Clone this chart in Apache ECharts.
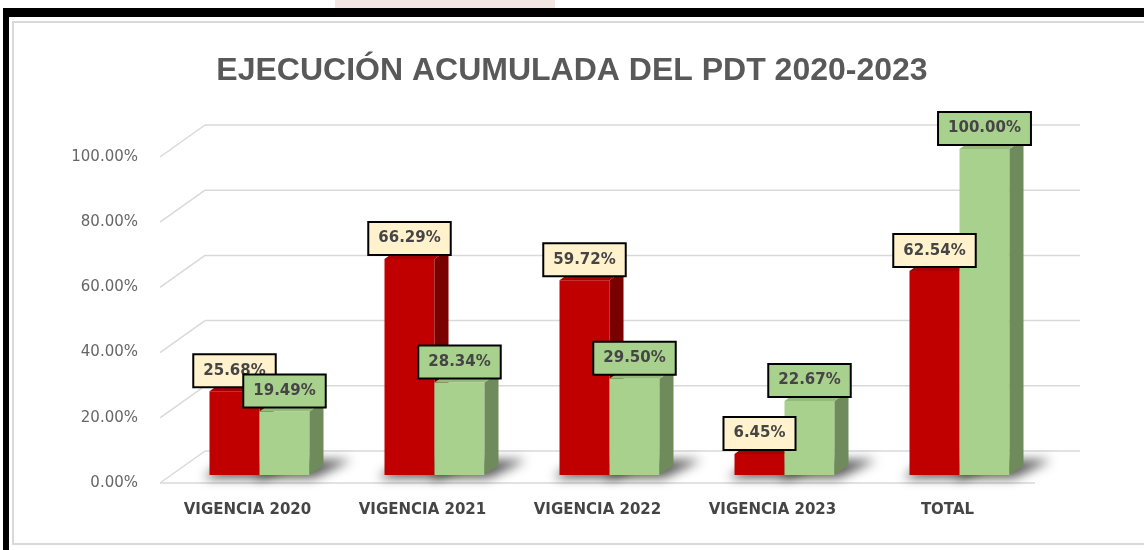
<!DOCTYPE html>
<html>
<head>
<meta charset="utf-8">
<script src="https://cdn.jsdelivr.net/npm/echarts@6/dist/echarts.min.js"></script>
<style>
  html, body { margin: 0; padding: 0; background: #ffffff; }
  #chart { width: 1144px; height: 550px; }
</style>
</head>
<body>
<div id="chart"></div>
<script>
// Categories and values (percent)
const categories = ['VIGENCIA 2020', 'VIGENCIA 2021', 'VIGENCIA 2022', 'VIGENCIA 2023', 'TOTAL'];
const redValues = [25.68, 66.29, 59.72, 6.45, 62.54];
const greenValues = [19.49, 28.34, 29.50, 22.67, 100.00];
const yTicks = [0, 20, 40, 60, 80, 100];

// 3D look: depth of the back wall, of the bar placement, and of each bar
const WALL_DX = 45, WALL_DY = -32;
const BAR_DX = 12, BAR_DY = -8;
const SIDE_DX = 14, SIDE_DY = -10;
const BAR_RATIO = 0.2857;
// the floor shadow shape is painted off-canvas so only its blurred shadow shows
const SHADOW_SHIFT = 3000;

const FONT = '"DejaVu Sans", "Liberation Sans", sans-serif';

const palette = {
  red:   { front: '#c00000', side: '#7a0000', top: '#a80000', label: '#fff2cc' },
  green: { front: '#a9d18e', side: '#6f8b5b', top: '#94bb7a', label: '#a9d18e' }
};

function fmt(v) { return v.toFixed(2) + '%'; }

// Walls and floor: one entry per tick value
function renderWall(params, api) {
  const cs = params.coordSys;
  const v = api.value(1);
  const p = api.coord([0, v]);
  const y = p[1];
  const x0 = cs.x, x1 = cs.x + cs.width;
  const stroke = { stroke: '#d9d9d9', lineWidth: 1.5, fill: null };
  const children = [
    { type: 'line', shape: { x1: x0, y1: y, x2: x0 + WALL_DX, y2: y + WALL_DY }, style: stroke },
    { type: 'line', shape: { x1: x0 + WALL_DX, y1: y + WALL_DY, x2: x1 + WALL_DX, y2: y + WALL_DY }, style: stroke }
  ];
  if (v === 0) {
    children.push({ type: 'line', shape: { x1: x0, y1: y, x2: x1, y2: y }, style: stroke });
  }
  return { type: 'group', children: children };
}

function makeBarRenderer(colors, side, labelZ) {
  return function (params, api) {
    const idx = api.value(0);
    const val = api.value(1);
    const base = api.coord([idx, 0]);
    const top = api.coord([idx, val]);
    const w = api.size([1, 0])[0] * BAR_RATIO;
    const cx = base[0] + BAR_DX;
    const x0 = side === 'left' ? cx - w : cx;
    const x1 = x0 + w;
    const yb = base[1] + BAR_DY;
    const yt = top[1] + BAR_DY;
    const S = SHADOW_SHIFT;
    return {
      type: 'group',
      children: [
        { // soft floor shadow
          type: 'polygon', z2: -5,
          shape: { points: [[x0 - 6, yb + 3 + S], [x1 + 4, yb + 3 + S], [x1 + SIDE_DX + 28, yb + SIDE_DY - 5 + S], [x0 + SIDE_DX + 4, yb + SIDE_DY - 5 + S]] },
          style: { fill: '#000', shadowBlur: 11, shadowColor: 'rgba(0,0,0,0.65)', shadowOffsetX: 0, shadowOffsetY: -S }
        },
        { type: 'rect', shape: { x: x0, y: yt, width: w, height: yb - yt }, style: { fill: colors.front } },
        { type: 'polygon', shape: { points: [[x1, yb], [x1, yt], [x1 + SIDE_DX, yt + SIDE_DY], [x1 + SIDE_DX, yb + SIDE_DY]] }, style: { fill: colors.side } },
        { type: 'polygon', shape: { points: [[x0, yt], [x1, yt], [x1 + SIDE_DX, yt + SIDE_DY], [x0 + SIDE_DX, yt + SIDE_DY]] }, style: { fill: colors.top } },
        {
          type: 'text', z2: labelZ,
          style: {
            text: fmt(val), x: x0 + w / 2, y: yt - 5,
            align: 'center', verticalAlign: 'bottom',
            font: 'bold 15px ' + FONT, fill: '#454545',
            backgroundColor: colors.label, borderColor: '#000000', borderWidth: 2,
            padding: [8, 9, 8, 9]
          }
        }
      ]
    };
  };
}

const chart = echarts.init(document.getElementById('chart'), null, { renderer: 'canvas' });

chart.setOption({
  backgroundColor: '#ffffff',
  animation: false,
  title: {
    text: 'EJECUCIÓN ACUMULADA DEL PDT 2020-2023',
    left: 'center', top: 50,
    textStyle: { fontFamily: '"Liberation Sans", Arial, sans-serif', fontWeight: 'bold', fontSize: 32, color: '#595959' }
  },
  graphic: [
    { type: 'rect', shape: { x: 335, y: 0, width: 220, height: 8 }, style: { fill: '#f3e7e4' } },
    { type: 'rect', shape: { x: 3, y: 8, width: 1141, height: 9 }, style: { fill: '#000000' } },
    { type: 'rect', shape: { x: 3, y: 8, width: 6, height: 542 }, style: { fill: '#000000' } },
    { type: 'rect', shape: { x: 13, y: 22, width: 1140, height: 522 }, style: { fill: null, stroke: '#d9d9d9', lineWidth: 2 } }
  ],
  grid: { left: 160, width: 875, top: 157, height: 326 },
  xAxis: {
    type: 'category', data: categories,
    axisLine: { show: false }, axisTick: { show: false }, splitLine: { show: false },
    axisLabel: { margin: 20, color: '#454545', fontFamily: FONT, fontWeight: 'bold', fontSize: 15 }
  },
  yAxis: {
    type: 'value', min: 0, max: 100, interval: 20,
    axisLine: { show: false }, axisTick: { show: false }, splitLine: { show: false },
    axisLabel: { margin: 22, color: '#666666', fontFamily: FONT, fontSize: 15, formatter: fmt }
  },
  series: [
    { type: 'custom', name: 'walls', z: 1, renderItem: renderWall, data: yTicks.map(v => [0, v]), silent: true },
    { type: 'custom', name: 'Serie roja', z: 2, renderItem: makeBarRenderer(palette.red, 'left', 100), data: redValues.map((v, i) => [i, v]) },
    { type: 'custom', name: 'Serie verde', z: 2, renderItem: makeBarRenderer(palette.green, 'right', 101), data: greenValues.map((v, i) => [i, v]) }
  ]
});
</script>
</body>
</html>
